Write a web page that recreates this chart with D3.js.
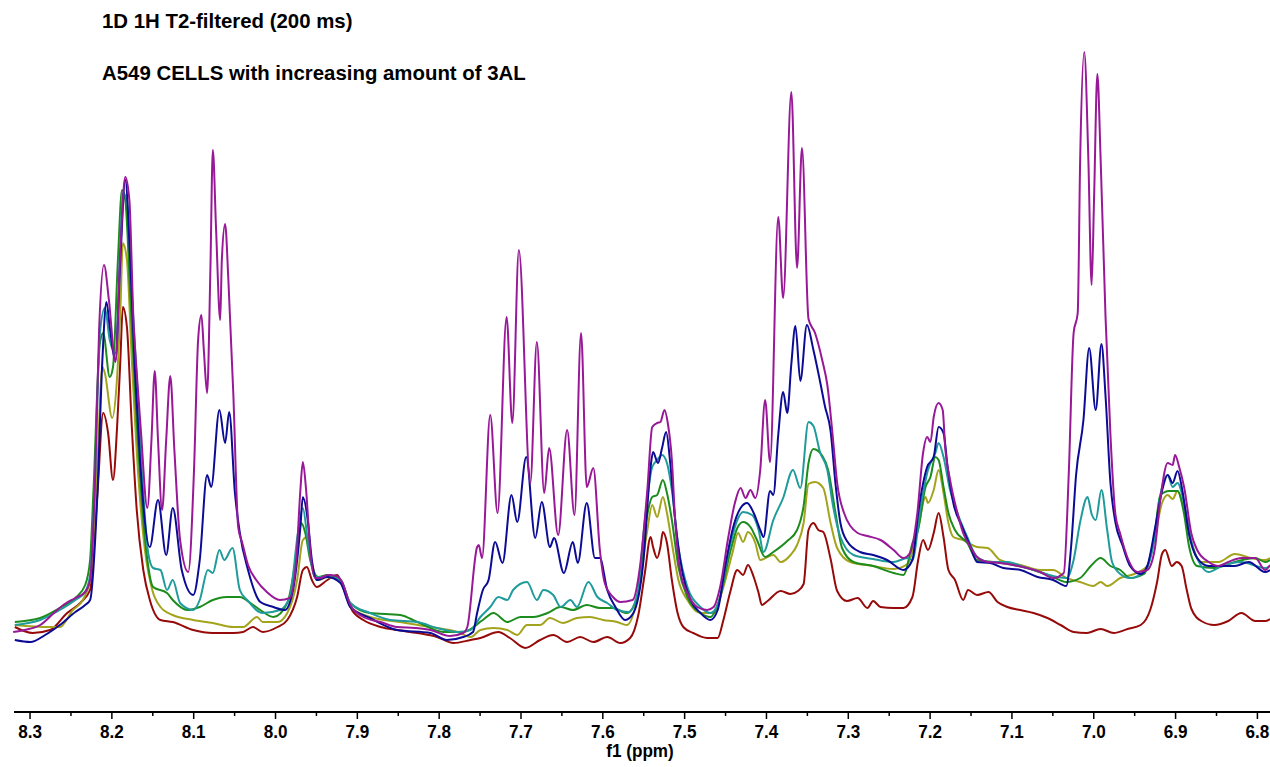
<!DOCTYPE html>
<html><head><meta charset="utf-8">
<script src="https://cdn.jsdelivr.net/npm/d3@7"></script>
<style>
html,body{margin:0;padding:0;background:#fff;}
svg{display:block;}
text{font-family:"Liberation Sans",Arial,sans-serif;font-weight:bold;fill:#000;}
</style></head><body>
<svg id="chart" width="1270" height="767"></svg>
<script>
const titleLines = ["1D 1H T2-filtered (200 ms)", "A549 CELLS with increasing amount of 3AL"];
const axisLabel = "f1 (ppm)";
const majorTicks = [8.3, 8.2, 8.1, 8.0, 7.9, 7.8, 7.7, 7.6, 7.5, 7.4, 7.3, 7.2, 7.1, 7.0, 6.9, 6.8];
const minorTicks = [8.25, 8.15, 8.05, 7.95, 7.85, 7.75, 7.65, 7.55, 7.45, 7.35, 7.25, 7.15, 7.05, 6.95, 6.85];
const seriesNames = ["darkred", "olive", "green", "teal", "navy", "purple"];
const seriesColors = ["#960a0a", "#a3a31c", "#1c8c1c", "#1f9b9b", "#0b0b95", "#981898"];

// [ppm, intensity]
const darkred = [[8.318,73],[8.296,67],[8.275,70],[8.254,87],[8.238,97],[8.226,110],[8.217,207],[8.210,287],[8.204,267],[8.198,220],[8.193,273],[8.189,340],[8.186,393],[8.181,373],[8.175,273],[8.169,190],[8.161,130],[8.153,100],[8.140,80],[8.125,78],[8.100,70],[8.076,67],[8.051,67],[8.039,68],[8.027,73],[8.015,68],[7.997,73],[7.985,80],[7.973,103],[7.966,130],[7.961,133],[7.955,120],[7.949,113],[7.936,120],[7.924,125],[7.917,113],[7.906,90],[7.892,80],[7.871,73],[7.851,70],[7.826,67],[7.802,63],[7.782,57],[7.761,60],[7.749,62],[7.727,68],[7.713,62],[7.694,52],[7.676,60],[7.660,65],[7.643,58],[7.627,63],[7.611,58],[7.594,63],[7.578,57],[7.566,62],[7.556,85],[7.548,127],[7.541,163],[7.538,153],[7.533,142],[7.529,153],[7.526,168],[7.521,157],[7.515,120],[7.508,87],[7.501,73],[7.489,67],[7.472,62],[7.459,62],[7.452,80],[7.444,107],[7.435,130],[7.428,125],[7.422,135],[7.415,123],[7.409,107],[7.405,95],[7.398,99],[7.382,109],[7.370,106],[7.361,109],[7.354,116],[7.348,170],[7.342,177],[7.336,170],[7.330,168],[7.321,141],[7.313,109],[7.301,99],[7.288,102],[7.276,92],[7.269,99],[7.260,93],[7.244,92],[7.232,92],[7.221,103],[7.214,140],[7.208,160],[7.202,150],[7.195,167],[7.189,187],[7.183,163],[7.177,130],[7.169,120],[7.159,100],[7.153,110],[7.142,105],[7.128,108],[7.117,98],[7.105,93],[7.089,90],[7.073,87],[7.056,82],[7.040,75],[7.024,68],[7.008,67],[6.991,71],[6.975,67],[6.958,71],[6.942,75],[6.930,91],[6.922,118],[6.916,146],[6.912,150],[6.904,134],[6.898,138],[6.892,134],[6.886,111],[6.880,91],[6.868,79],[6.852,75],[6.835,79],[6.819,87],[6.802,79],[6.790,79],[6.784,81]];

const olive = [[8.318,75],[8.275,73],[8.263,73],[8.247,90],[8.235,100],[8.226,120],[8.217,240],[8.211,333],[8.208,327],[8.199,282],[8.193,323],[8.189,390],[8.186,457],[8.181,440],[8.175,340],[8.167,223],[8.159,150],[8.150,110],[8.140,93],[8.125,85],[8.100,80],[8.076,77],[8.051,73],[8.039,73],[8.022,83],[8.015,78],[7.997,78],[7.985,87],[7.973,120],[7.966,160],[7.961,163],[7.955,137],[7.947,120],[7.936,123],[7.920,120],[7.908,93],[7.884,83],[7.847,78],[7.810,73],[7.777,68],[7.761,63],[7.749,70],[7.733,72],[7.716,70],[7.704,65],[7.692,75],[7.676,75],[7.664,82],[7.648,77],[7.631,82],[7.615,83],[7.599,80],[7.582,78],[7.570,75],[7.556,107],[7.545,170],[7.539,195],[7.533,183],[7.526,203],[7.521,187],[7.515,157],[7.507,120],[7.496,100],[7.480,87],[7.464,87],[7.452,113],[7.441,147],[7.434,167],[7.428,158],[7.422,168],[7.413,157],[7.407,140],[7.391,145],[7.382,138],[7.370,145],[7.362,155],[7.354,177],[7.348,216],[7.340,218],[7.330,212],[7.321,177],[7.313,152],[7.297,138],[7.269,134],[7.244,131],[7.227,136],[7.214,172],[7.205,203],[7.202,197],[7.195,210],[7.189,230],[7.183,207],[7.177,177],[7.171,163],[7.159,160],[7.142,153],[7.129,152],[7.114,140],[7.089,135],[7.065,130],[7.049,130],[7.033,122],[7.016,118],[7.000,114],[6.991,118],[6.983,114],[6.967,122],[6.950,126],[6.934,134],[6.924,166],[6.916,197],[6.909,205],[6.903,201],[6.897,209],[6.889,190],[6.880,158],[6.868,138],[6.847,138],[6.827,146],[6.807,142],[6.790,140],[6.784,142]];

const green = [[8.318,78],[8.287,82],[8.263,92],[8.244,102],[8.232,115],[8.226,140],[8.222,207],[8.214,357],[8.210,367],[8.202,323],[8.198,333],[8.192,440],[8.187,510],[8.183,500],[8.177,407],[8.171,307],[8.162,190],[8.156,140],[8.149,113],[8.132,107],[8.125,100],[8.107,90],[8.092,93],[8.076,100],[8.059,103],[8.043,103],[8.030,97],[8.018,90],[8.002,83],[7.985,97],[7.973,150],[7.968,177],[7.963,167],[7.957,140],[7.947,123],[7.936,125],[7.920,120],[7.908,97],[7.884,87],[7.847,85],[7.826,78],[7.794,68],[7.770,68],[7.746,80],[7.733,87],[7.716,78],[7.700,83],[7.684,83],[7.667,87],[7.651,93],[7.636,90],[7.619,95],[7.603,92],[7.587,92],[7.570,87],[7.557,103],[7.548,170],[7.539,203],[7.533,205],[7.526,220],[7.521,207],[7.515,180],[7.507,133],[7.496,103],[7.480,87],[7.468,83],[7.456,103],[7.444,147],[7.435,172],[7.428,178],[7.419,173],[7.411,160],[7.401,143],[7.391,148],[7.374,159],[7.362,170],[7.354,194],[7.348,237],[7.342,251],[7.331,244],[7.324,230],[7.315,187],[7.307,152],[7.293,138],[7.269,134],[7.244,127],[7.232,125],[7.220,159],[7.215,167],[7.205,213],[7.199,223],[7.193,243],[7.189,240],[7.183,213],[7.177,187],[7.169,170],[7.154,157],[7.142,140],[7.122,138],[7.098,135],[7.073,130],[7.049,123],[7.033,118],[7.016,122],[7.003,134],[6.991,142],[6.979,134],[6.967,130],[6.955,122],[6.938,126],[6.925,166],[6.918,205],[6.907,209],[6.897,209],[6.889,186],[6.883,154],[6.873,134],[6.852,132],[6.827,138],[6.802,142],[6.790,138],[6.784,140]];

const teal = [[8.318,75],[8.287,80],[8.263,90],[8.244,100],[8.232,108],[8.226,125],[8.220,220],[8.214,367],[8.208,392],[8.202,360],[8.195,347],[8.189,457],[8.186,507],[8.181,500],[8.175,407],[8.169,323],[8.161,207],[8.155,147],[8.149,132],[8.140,130],[8.132,110],[8.125,120],[8.116,97],[8.100,90],[8.092,100],[8.082,130],[8.076,127],[8.068,150],[8.062,140],[8.052,152],[8.043,110],[8.034,100],[8.015,87],[7.994,90],[7.982,103],[7.972,167],[7.966,192],[7.960,160],[7.951,123],[7.936,123],[7.920,120],[7.908,97],[7.884,87],[7.859,80],[7.826,78],[7.802,72],[7.777,68],[7.761,70],[7.749,83],[7.737,93],[7.727,103],[7.716,100],[7.709,110],[7.692,118],[7.680,100],[7.672,110],[7.660,105],[7.651,93],[7.639,100],[7.631,93],[7.617,118],[7.606,103],[7.594,97],[7.582,90],[7.568,88],[7.557,107],[7.548,180],[7.539,233],[7.533,240],[7.527,245],[7.521,237],[7.515,210],[7.507,153],[7.496,113],[7.480,93],[7.468,87],[7.458,97],[7.446,147],[7.435,180],[7.428,188],[7.417,185],[7.409,170],[7.403,148],[7.391,180],[7.379,202],[7.367,230],[7.358,212],[7.348,278],[7.342,274],[7.334,248],[7.325,230],[7.318,194],[7.309,163],[7.293,145],[7.269,141],[7.244,138],[7.227,142],[7.221,140],[7.211,193],[7.202,230],[7.193,247],[7.189,257],[7.183,243],[7.175,210],[7.166,187],[7.154,163],[7.142,143],[7.126,138],[7.105,138],[7.085,133],[7.065,128],[7.044,123],[7.032,122],[7.024,140],[7.016,178],[7.007,203],[7.002,186],[6.997,180],[6.990,210],[6.983,170],[6.977,138],[6.967,126],[6.955,122],[6.938,128],[6.925,162],[6.918,205],[6.909,225],[6.903,213],[6.897,217],[6.889,197],[6.880,158],[6.868,134],[6.859,128],[6.843,134],[6.819,138],[6.790,132],[6.784,134]];

const navy = [[8.318,60],[8.299,58],[8.281,65],[8.263,75],[8.244,88],[8.232,95],[8.226,100],[8.217,207],[8.211,340],[8.206,398],[8.202,373],[8.195,340],[8.189,440],[8.183,520],[8.177,440],[8.171,327],[8.165,240],[8.153,153],[8.143,200],[8.133,145],[8.125,192],[8.114,130],[8.100,105],[8.092,140],[8.083,225],[8.078,213],[8.068,290],[8.061,257],[8.056,288],[8.049,207],[8.043,167],[8.033,130],[8.018,98],[8.002,93],[7.988,90],[7.978,110],[7.969,173],[7.966,203],[7.960,180],[7.955,140],[7.949,120],[7.936,123],[7.920,117],[7.908,93],[7.884,82],[7.851,70],[7.810,67],[7.790,60],[7.770,63],[7.758,68],[7.753,87],[7.746,110],[7.739,120],[7.731,158],[7.722,137],[7.711,205],[7.704,178],[7.693,243],[7.682,162],[7.674,198],[7.664,153],[7.659,162],[7.647,127],[7.636,158],[7.630,137],[7.619,197],[7.609,142],[7.603,142],[7.594,110],[7.584,93],[7.572,80],[7.562,87],[7.550,137],[7.541,233],[7.538,248],[7.532,237],[7.527,252],[7.522,268],[7.517,237],[7.511,180],[7.502,127],[7.492,100],[7.480,87],[7.468,80],[7.459,90],[7.450,133],[7.440,173],[7.431,192],[7.423,197],[7.415,187],[7.407,170],[7.403,163],[7.395,209],[7.391,205],[7.385,265],[7.379,308],[7.374,287],[7.369,336],[7.364,374],[7.358,319],[7.350,375],[7.342,350],[7.334,319],[7.328,294],[7.321,269],[7.315,216],[7.309,177],[7.301,159],[7.285,148],[7.269,145],[7.252,140],[7.232,130],[7.221,140],[7.214,187],[7.203,233],[7.195,243],[7.189,273],[7.183,267],[7.178,233],[7.171,197],[7.160,173],[7.150,153],[7.142,138],[7.126,137],[7.110,132],[7.089,130],[7.068,123],[7.049,120],[7.033,114],[7.027,154],[7.021,225],[7.012,280],[7.005,352],[6.997,290],[6.990,356],[6.985,304],[6.979,217],[6.973,178],[6.964,154],[6.955,134],[6.942,126],[6.934,134],[6.924,174],[6.916,209],[6.909,225],[6.903,217],[6.897,229],[6.891,209],[6.883,166],[6.873,142],[6.859,134],[6.843,134],[6.827,134],[6.810,138],[6.790,128],[6.784,130]];

const purple = [[8.320,68],[8.306,70],[8.287,75],[8.269,88],[8.257,96],[8.244,102],[8.232,108],[8.226,120],[8.220,220],[8.215,370],[8.209,435],[8.203,400],[8.195,338],[8.189,450],[8.183,523],[8.178,500],[8.173,380],[8.169,327],[8.164,270],[8.156,192],[8.151,260],[8.147,329],[8.143,260],[8.138,190],[8.133,260],[8.128,324],[8.123,250],[8.116,160],[8.106,128],[8.099,230],[8.094,360],[8.090,385],[8.087,350],[8.083,307],[8.079,430],[8.076,550],[8.072,470],[8.067,380],[8.065,440],[8.061,476],[8.057,420],[8.051,307],[8.045,173],[8.040,157],[8.033,135],[8.023,120],[8.010,108],[7.994,100],[7.982,102],[7.974,140],[7.969,210],[7.966,238],[7.962,210],[7.957,150],[7.951,122],[7.945,122],[7.935,125],[7.925,124],[7.918,118],[7.908,95],[7.892,83],[7.871,78],[7.851,73],[7.829,72],[7.810,70],[7.786,64],[7.770,67],[7.765,73],[7.753,153],[7.751,155],[7.747,142],[7.737,285],[7.728,187],[7.717,383],[7.710,277],[7.702,450],[7.688,217],[7.680,358],[7.671,207],[7.665,252],[7.654,165],[7.643,270],[7.634,185],[7.626,367],[7.619,213],[7.611,232],[7.603,150],[7.597,117],[7.587,103],[7.578,98],[7.563,100],[7.554,133],[7.545,210],[7.539,273],[7.533,277],[7.529,278],[7.524,290],[7.520,277],[7.515,240],[7.511,180],[7.505,130],[7.496,107],[7.484,93],[7.472,90],[7.464,93],[7.456,113],[7.446,163],[7.438,197],[7.431,212],[7.425,202],[7.419,210],[7.413,202],[7.407,230],[7.401,300],[7.395,238],[7.385,483],[7.379,402],[7.369,608],[7.362,432],[7.356,552],[7.348,381],[7.340,367],[7.331,339],[7.325,315],[7.319,269],[7.313,217],[7.305,188],[7.288,167],[7.276,164],[7.260,160],[7.244,150],[7.232,142],[7.224,147],[7.215,187],[7.208,247],[7.203,263],[7.199,258],[7.195,283],[7.189,297],[7.184,290],[7.181,253],[7.175,220],[7.166,187],[7.159,167],[7.150,153],[7.142,143],[7.129,138],[7.114,137],[7.098,135],[7.081,132],[7.065,128],[7.049,122],[7.036,127],[7.030,225],[7.024,367],[7.019,387],[7.016,541],[7.011,648],[7.006,541],[7.002,415],[6.999,502],[6.995,626],[6.991,541],[6.985,383],[6.979,265],[6.973,186],[6.967,166],[6.958,142],[6.946,128],[6.934,130],[6.925,150],[6.918,201],[6.909,237],[6.903,235],[6.900,245],[6.895,233],[6.889,213],[6.880,166],[6.873,150],[6.859,138],[6.847,134],[6.835,138],[6.819,142],[6.802,142],[6.790,130],[6.784,135]];

const seriesData = [darkred, olive, green, teal, navy, purple];

const svg = d3.select("#chart");
const x = d3.scaleLinear().domain([8.319, 6.784]).range([14, 1270]);
const y = d3.scaleLinear().domain([0, 680]).range([700, 20]);
const axisY = 712;

const line = d3.line()
  .x(d => x(d[0]))
  .y(d => y(d[1]))
  .curve(d3.curveMonotoneX);

const g = svg.append("g");
seriesData.forEach((data, i) => {
  const sorted = data.slice().sort((a, b) => b[0] - a[0]);
  g.append("path")
    .datum(sorted)
    .attr("class", "spec " + seriesNames[i])
    .attr("fill", "none")
    .attr("stroke", seriesColors[i])
    .attr("stroke-width", 2)
    .attr("stroke-linejoin", "round")
    .attr("d", line);
});

// axis
const axMinor = d3.axisBottom(x).tickValues(minorTicks).tickSize(4).tickFormat("");
const axMajor = d3.axisBottom(x).tickValues(majorTicks).tickSize(7).tickPadding(6)
  .tickFormat(d3.format(".1f"));
const gMinor = svg.append("g").attr("transform", `translate(0,${axisY})`).call(axMinor);
const gMajor = svg.append("g").attr("transform", `translate(0,${axisY})`).call(axMajor);
[gMinor, gMajor].forEach(ga => {
  ga.select(".domain").remove();
  ga.selectAll(".tick line").attr("stroke", "#000").attr("stroke-width", 1.5);
});
gMajor.selectAll(".tick text")
  .attr("font-size", 19).attr("fill", "#000")
  .attr("transform", "scale(0.9,1)")
  .style("font-family", "'Liberation Sans', Arial, sans-serif").style("font-weight", "bold");
svg.append("line")
  .attr("x1", x.range()[0]).attr("x2", x.range()[1])
  .attr("y1", axisY).attr("y2", axisY)
  .attr("stroke", "#000").attr("stroke-width", 2);

svg.append("text")
  .attr("transform", "translate(640,757) scale(0.95,1)")
  .attr("text-anchor", "middle")
  .attr("font-size", 18)
  .text(axisLabel);

svg.selectAll(".title").data(titleLines).enter().append("text")
  .attr("class", "title")
  .attr("x", 102)
  .attr("y", (d, i) => 28 + i * 52)
  .attr("font-size", 20.4)
  .text(d => d);
</script>
</body></html>
